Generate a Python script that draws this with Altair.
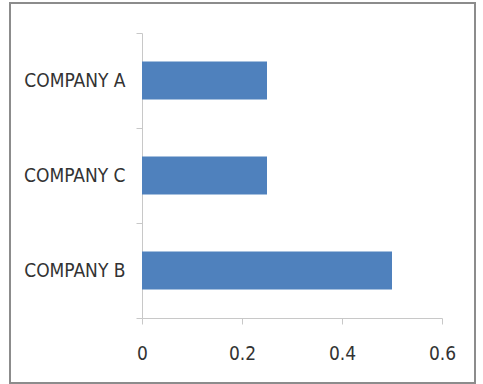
import altair as alt
import pandas as pd

companies = ["COMPANY A", "COMPANY C", "COMPANY B"]
values = [0.25, 0.25, 0.5]
x_ticks = [0, 0.2, 0.4, 0.6]

df = pd.DataFrame({"company": companies, "value": values})

FONT = "DejaVu Sans Condensed, Liberation Sans, sans-serif"

bars = alt.Chart(df).mark_bar(color="#4f81bd", height=alt.RelativeBandSize(0.4)).encode(
    x=alt.X("value:Q", scale=alt.Scale(domain=[0, 0.6], nice=False, zero=True),
            axis=alt.Axis(values=x_ticks, title=None, grid=False, format=".1~f",
                          domainColor="#c8c8c8", tickColor="#c8c8c8", tickSize=6,
                          labelFont=FONT, labelFontSize=19, labelColor="#333333",
                          labelPadding=20, labelFlush=False)),
    y=alt.Y("company:N", sort=None, scale=alt.Scale(paddingInner=0, paddingOuter=0),
            axis=alt.Axis(title=None, tickBand="extent", grid=False,
                          domainColor="#c8c8c8", tickColor="#c8c8c8", tickSize=6,
                          labelFont=FONT, labelFontSize=19, labelColor="#333333",
                          labelPadding=11)),
)

border = alt.Chart(df).mark_rect(fill=None, stroke="#8c8c8c", strokeWidth=2).encode(
    x=alt.value(-132), x2=alt.value(333), y=alt.value(-30), y2=alt.value(350)
)

chart = alt.layer(border, bars).properties(
    width=300, height=285,
    autosize=alt.AutoSizeParams(type="none"),
    padding={"left": 142, "top": 33, "right": 41, "bottom": 66},
    background="white",
).configure_view(stroke=None)

chart.save("out.html", embed_options={"renderer": "svg", "actions": False})
